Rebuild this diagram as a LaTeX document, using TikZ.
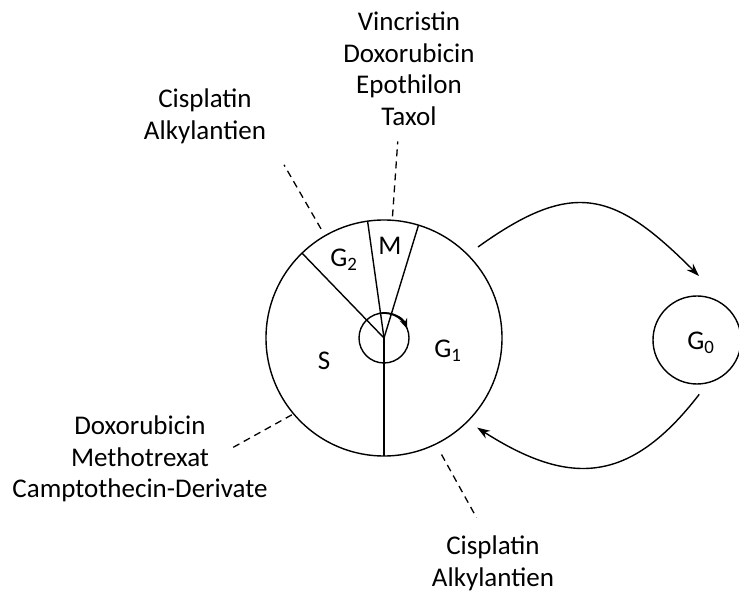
\documentclass[tikz,border=0pt]{standalone}
\usepackage{fontspec}
\setmainfont{Carlito}
\usetikzlibrary{arrows.meta}

\begin{document}
\begin{tikzpicture} [x=1pt, y=1pt,
				phase/.style={
				% The shape:
				circle,
				% The border:
     				draw=black, line width=1.4pt,
				inner sep=0pt, outer sep=0pt
    				},
				phasename/.style={
				inner sep=0pt,
				font=\fontsize{27}{31.5}\selectfont
    				},
				drugs/.style={
				align=center, inner sep=0pt, anchor=north,
				font=\fontsize{27}{31.5}\selectfont
    				},
				border/.style={line width=1.4pt},
				guide/.style={dash pattern=on 7pt off 5pt, line width=1.3pt},
				flow/.style={-{Stealth[length=13pt, width=9pt]}, line width=1.4pt}
				]
    \useasboundingbox (0,0) rectangle (739,594);
    % cell cycle
    \node [phase, minimum size=236pt] (cell) at (384,256) {};
    \node [phase, minimum size=50pt] (turn) at (cell.center) {};
    \draw [border] (cell.center) -- (cell.134.4);
    \draw [border] (cell.center) -- (cell.98.7);
    \draw [border] (cell.center) -- (cell.73.7);
    \draw [border] (cell.center) -- (cell.south);
    \draw [border, line width=1.8pt, -{Stealth[length=10pt, width=8pt]}] (turn.100) arc [start angle=100, end angle=22, radius=25pt];
    \node [phasename] (gtwo) at (344,334) {G\textsubscript{2}};
    \node [phasename] (m) at (390,348) {M};
    \node [phasename] (s) at (324,233) {S};
    \node [phasename] (gone) at (448,243) {G\textsubscript{1}};
    % resting phase
    \node [phase, minimum size=88pt] (rest) at (697,254) {};
    \node [phasename] (gzero) at (701,251) {G\textsubscript{0}};
    \coordinate (restin) at (699,318);
    \draw [flow, shorten <=13pt] (cell.45) .. controls (574,416) and (615,402) .. (restin);
    \draw [flow, shorten <=15pt, shorten >=11.5pt] (rest.-75) .. controls (630,110) and (570,107) .. (cell.-45);
    % drugs
    \node [drugs] (drugsgtwo) at (205,505) {Cisplatin\\Alkylantien};
    \node [drugs] (drugsm) at (409,582) {Vincristin\\Doxorubicin\\Epothilon\\Taxol};
    \node [drugs] (drugss) at (140,178) {Doxorubicin\\Methotrexat\\Camptothecin-Derivate};
    \node [drugs] (drugsgone) at (493,58) {Cisplatin\\Alkylantien};
    \draw [guide, shorten <=8pt] (cell.120) -- +(120:82);
    \draw [guide, shorten <=4pt] (cell.86) -- +(86:79);
    \draw [guide, shorten <=2pt] (cell.220) -- +(209:72);
    \draw [guide, shorten <=12pt] (cell.-64) -- +(-61:84);
\end{tikzpicture}
\end{document}
